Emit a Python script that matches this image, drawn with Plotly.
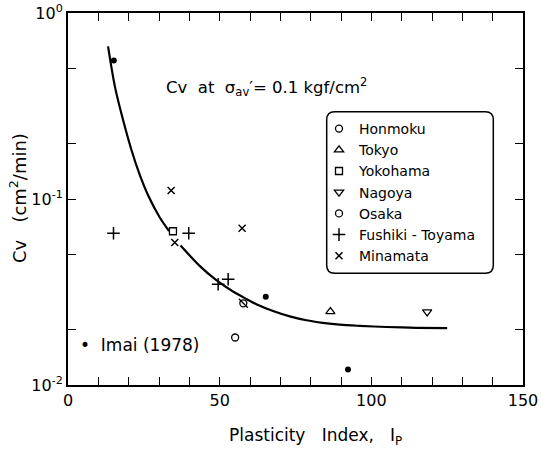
import plotly.graph_objects as go

# ---- data ----
imai_x = [15.1, 65.2, 92.3]
imai_y = [0.556, 0.0298, 0.0121]

honmoku_x = [55.1]
honmoku_y = [0.0180]

tokyo_x = [86.5]
tokyo_y = [0.0248]

yokohama_x = [34.6]
yokohama_y = [0.0671]

nagoya_x = [118.4]
nagoya_y = [0.0247]

osaka_x = [57.8]
osaka_y = [0.0275]

fushiki_x = [15.0, 39.8, 49.5, 52.8]
fushiki_y = [0.0655, 0.0655, 0.0348, 0.0370]

minamata_x = [34.0, 35.2, 57.4]
minamata_y = [0.111, 0.0583, 0.0697]

curve_x = [13.2, 15.4, 17.6, 20.9, 23.6, 26.4, 30.2, 33.3, None,
           37.1, 43.4, 48.9, 54.4, 58.8, 62.1, 67.6, 73.1, 78.6, 84.0, 89.6, 96.2, 105.0, 115.0, 125.0]
curve_y = [0.661, 0.407, 0.288, 0.184, 0.1355, 0.1047, 0.0798, 0.0673, None,
           0.0562, 0.0437, 0.0366, 0.0318, 0.0290, 0.0272, 0.0250, 0.0234, 0.0223, 0.0216, 0.0211,
           0.0208, 0.0205, 0.0203, 0.0202]

x_ticks = [0, 10, 20, 30, 40, 50, 60, 70, 80, 90, 100, 110, 120, 130, 140, 150]
x_ticktext = ["0", "", "", "", "", "50", "", "", "", "", "100", "", "", "", "", "150"]
y_ticks = [0.01, 0.02, 0.05, 0.1, 0.2, 0.5, 1]
y_ticktext = ["10<sup>-2</sup>", "", "", "10<sup>-1</sup>", "", "", "10<sup>0</sup>"]

FONT = "DejaVu Sans"
BLACK = "black"

fig = go.Figure()

fig.add_trace(go.Scatter(x=curve_x, y=curve_y, mode="lines",
                         line=dict(color=BLACK, width=2.2, shape="spline", smoothing=0.8),
                         connectgaps=False, showlegend=False, hoverinfo="skip"))

fig.add_trace(go.Scatter(x=imai_x, y=imai_y, mode="markers", showlegend=False,
                         marker=dict(symbol="circle", size=6, color=BLACK)))

def add(name, xs, ys, symbol, size, lw=1.3):
    fig.add_trace(go.Scatter(x=xs, y=ys, mode="markers", name=name, legendgroup=name,
                             marker=dict(symbol=symbol, size=size, color=BLACK,
                                         line=dict(color=BLACK, width=lw))))

add("Honmoku", honmoku_x, honmoku_y, "circle-open", 7)
add("Tokyo", tokyo_x, tokyo_y, "triangle-up-open", 8)
add("Yokohama", yokohama_x, yokohama_y, "square-open", 7)
add("Nagoya", nagoya_x, nagoya_y, "triangle-down-open", 8)
add("Osaka", osaka_x, osaka_y, "circle-open", 7)
fig.add_trace(go.Scatter(x=osaka_x, y=osaka_y, mode="markers", showlegend=False, legendgroup="Osaka",
                         marker=dict(symbol="line-nw-open", size=9, color=BLACK, line=dict(color=BLACK, width=1.3))))
add("Fushiki - Toyama", fushiki_x, fushiki_y, "cross-thin-open", 9, 1.5)
add("Minamata", minamata_x, minamata_y, "x-thin-open", 7, 1.5)

axis_common = dict(showgrid=False, zeroline=False, showline=True, linecolor=BLACK, linewidth=2,
                   mirror="ticks", ticks="inside", ticklen=8, tickwidth=1.3, tickcolor=BLACK,
                   automargin=False, tickmode="array", ticklabeloverflow="allow",
                   tickfont=dict(family=FONT, size=16, color=BLACK))

fig.update_xaxes(range=[0, 150], tickvals=x_ticks, ticktext=x_ticktext, **axis_common)
fig.update_yaxes(type="log", range=[-2, 0], tickvals=y_ticks, ticktext=y_ticktext, **axis_common)

PW, PH = 541 - 68 - 18, 449 - 13 - 64
def px(xp):
    return (xp - 68) / PW
def py(yp):
    return (449 - 64 - yp) / PH

# rounded legend frame (paper coords)
x0, x1, y0, y1 = px(326.7), px(493.3), py(273.3), py(111.7)
rx = 8 / PW
ry = 8 / PH
path = (f"M {x0+rx},{y1} L {x1-rx},{y1} Q {x1},{y1} {x1},{y1-ry} L {x1},{y0+ry} Q {x1},{y0} {x1-rx},{y0} "
        f"L {x0+rx},{y0} Q {x0},{y0} {x0},{y0+ry} L {x0},{y1-ry} Q {x0},{y1} {x0+rx},{y1} Z")
fig.add_shape(type="path", path=path, xref="paper", yref="paper", line=dict(color=BLACK, width=1.5))

fig.update_layout(
    width=541, height=449,
    margin=dict(l=68, r=18, t=13, b=64),
    paper_bgcolor="white", plot_bgcolor="white",
    font=dict(family=FONT, color=BLACK),
    legend=dict(x=px(319), y=py(113), xanchor="left", yanchor="top", bgcolor="rgba(0,0,0,0)",
                borderwidth=0, font=dict(family=FONT, size=14, color=BLACK), tracegroupgap=0,
                itemwidth=30),
    annotations=[
        dict(text="Cv  at  σ<sub>av</sub>′= 0.1 kgf/cm<sup>2</sup>", xref="paper", yref="paper",
             x=px(164), y=py(87), xanchor="left", yanchor="middle",
             showarrow=False, font=dict(family=FONT, size=16.5, color=BLACK)),
        dict(text="•  Imai (1978)", xref="paper", yref="paper",
             x=px(78), y=py(345), xanchor="left", yanchor="middle",
             showarrow=False, font=dict(family=FONT, size=17, color=BLACK)),
        dict(text="Plasticity   Index,   I<sub>P</sub>", xref="paper", yref="paper",
             x=px(315), y=py(437), xanchor="center", yanchor="middle",
             showarrow=False, font=dict(family=FONT, size=17, color=BLACK)),
        dict(text="Cv   (cm<sup>2</sup>/min)", xref="paper", yref="paper", textangle=-90,
             x=px(18), y=py(198), xanchor="center", yanchor="middle",
             showarrow=False, font=dict(family=FONT, size=18, color=BLACK)),
    ],
)

# remove the default 8px page margin so the figure sits at the window's top-left corner
fig.write_html("out.html", config={"displayModeBar": False},
               post_script="document.body.style.margin='0px';")
